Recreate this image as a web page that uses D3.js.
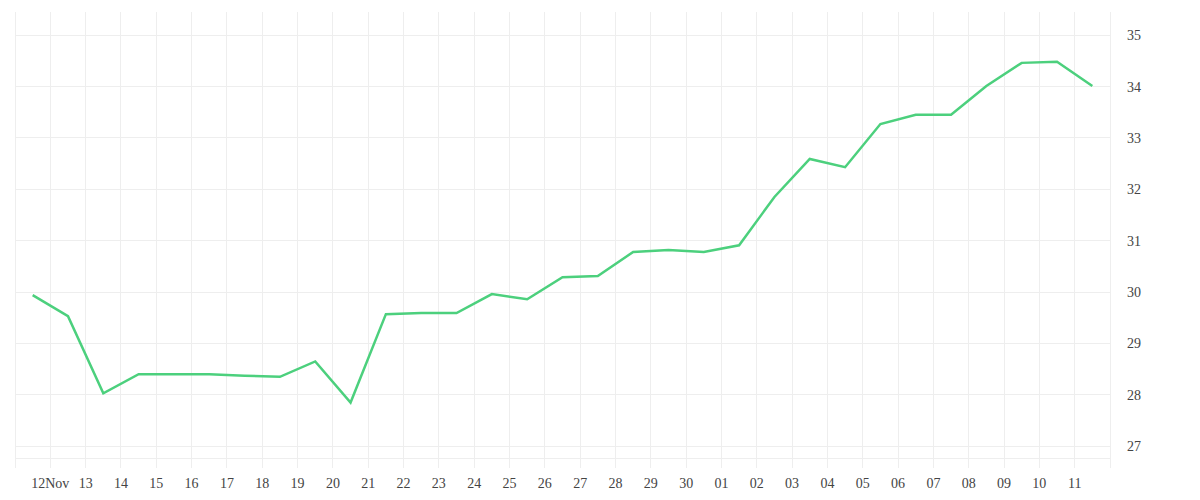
<!DOCTYPE html>
<html><head><meta charset="utf-8">
<script src="https://cdn.jsdelivr.net/npm/d3@7"></script>
<style>body{margin:0;background:#fff}text{font-family:"Liberation Serif","DejaVu Serif",serif;font-size:14px;fill:#444}</style>
</head><body><svg id="c" width="1200" height="500"></svg>
<script>
// daily values, Nov 11 .. Dec 11 (plotted at noon)
var startDay = new Date(2023, 10, 11);
var values = [29.94,29.53,28.03,28.40,28.40,28.40,28.37,28.35,28.65,27.85,29.57,29.59,29.59,29.96,29.86,30.29,30.31,30.78,30.82,30.78,30.91,31.85,32.59,32.43,33.27,33.45,33.45,34.01,34.46,34.48,34.01];
var yTicks = [27,28,29,30,31,32,33,34,35];

var svg = d3.select('#c');
var pLeft = 15, pRight = 1110, pTop = 12, pBottom = 458;
var x = d3.scaleTime().domain([startDay, d3.timeDay.offset(startDay, values.length)]).range([pLeft, pRight]);
var y = d3.scaleLinear().domain([26.77, 35.45]).range([pBottom, pTop]);
var days = d3.timeDay.range(startDay, d3.timeDay.offset(startDay, values.length + 1));

var grid = svg.append('g').attr('stroke', '#eee').attr('shape-rendering', 'crispEdges');
grid.selectAll('.v').data(days).enter().append('line')
	.attr('x1', d => x(d)).attr('x2', d => x(d)).attr('y1', pTop).attr('y2', 468);
grid.selectAll('.h').data(yTicks).enter().append('line')
	.attr('x1', pLeft).attr('x2', pRight).attr('y1', d => y(d)).attr('y2', d => y(d));
grid.append('line').attr('x1', pLeft).attr('x2', pRight).attr('y1', pBottom).attr('y2', pBottom);

svg.selectAll('.yl').data(yTicks).enter().append('text')
	.attr('x', 1127).attr('y', d => y(d) + 5).text(d => d);

svg.selectAll('.xl').data(days.slice(1, values.length)).enter().append('text')
	.attr('x', d => x(d)).attr('y', 488).attr('text-anchor', 'middle')
	.text(d => d.getDate() === 12 && d.getMonth() === 10 ? '12Nov' : d3.timeFormat('%d')(d));

var line = d3.line()
	.x((d, i) => x(d3.timeHour.offset(d3.timeDay.offset(startDay, i), 12)))
	.y(d => y(d));
svg.append('path').datum(values).attr('d', line)
	.attr('fill', 'none').attr('stroke', '#4cd07d').attr('stroke-width', 2.5);
</script></body></html>
